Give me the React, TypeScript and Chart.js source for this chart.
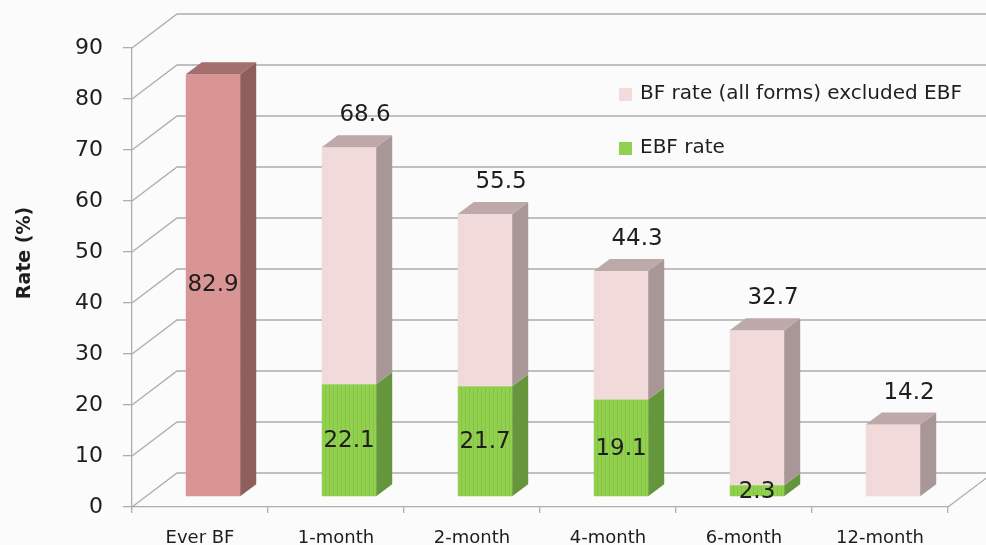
import { useEffect, useRef } from "react";
import { Chart, registerables } from "chart.js";

Chart.register(...registerables);

// ---- data ----
const categories = ["Ever BF", "1-month", "2-month", "4-month", "6-month", "12-month"];
const totalRate = [82.9, 68.6, 55.5, 44.3, 32.7, 14.2];
const ebfRate = [0, 22.1, 21.7, 19.1, 2.3, 0];
const seriesNames = ["BF rate (all forms) excluded EBF", "EBF rate"];
const yMin = 0;
const yMax = 90;
const yStep = 10;
const everIndex = 0; // the "Ever BF" bar, drawn solid with its label inside

// breastfeeding other than exclusive = total minus the exclusive part
const bfOtherRate = totalRate.map((t, i) => Math.round((t - ebfRate[i]) * 10) / 10);

// ---- styling ----
const FONT = "DejaVu Sans";
const GRID = "#adadad";
const TEXT = "#1e1e1e";
const BG = "#fbfbfb";

// offset of the bars' front plane from the axis plane
const PLANE_DX = 13;
const PLANE_DY = -10;
// depth of each bar
const DEPTH_DX = 16;
const DEPTH_DY = -12;
// depth of the floor / back wall
const WALL_DX = 45;
const WALL_DY = -34;

const COLORS = {
  ever: { front: "#d99594", side: "#8e5e5d", top: "#a36f6e" },
  other: { front: "#f2dcdb", side: "#a99797", top: "#bda9a9" },
  ebf: { front: "#92d050", side: "#66963b", top: "#7db644" },
};

function makePattern(base: string, mark: string, kind: "stripe" | "dot") {
  const c = document.createElement("canvas");
  c.width = 4;
  c.height = 4;
  const g = c.getContext("2d")!;
  g.fillStyle = base;
  g.fillRect(0, 0, 4, 4);
  g.fillStyle = mark;
  if (kind === "stripe") {
    g.fillRect(0, 0, 1, 4);
  } else {
    g.fillRect(0, 0, 1, 1);
    g.fillRect(2, 2, 1, 1);
  }
  return g.createPattern(c, "repeat")!;
}

function poly(ctx: CanvasRenderingContext2D, pts: number[][], fill: string) {
  ctx.beginPath();
  ctx.moveTo(pts[0][0], pts[0][1]);
  for (let i = 1; i < pts.length; i++) ctx.lineTo(pts[i][0], pts[i][1]);
  ctx.closePath();
  ctx.fillStyle = fill;
  ctx.fill();
}

const threeDPlugin = {
  id: "threeD",
  beforeDraw(chart: any) {
    const { ctx, width, height } = chart;
    ctx.save();
    ctx.fillStyle = BG;
    ctx.fillRect(0, 0, width, height);
    ctx.restore();
  },
  beforeDatasetsDraw(chart: any) {
    const { ctx, chartArea, scales, width } = chart;
    const y = scales.y;
    ctx.save();
    ctx.strokeStyle = GRID;
    ctx.lineWidth = 1.3;
    // wall grid: diagonal on the left wall, then across the back wall
    for (let v = yMin; v <= yMax; v += yStep) {
      const p = y.getPixelForValue(v);
      ctx.beginPath();
      ctx.moveTo(chartArea.left, p);
      ctx.lineTo(chartArea.left + WALL_DX, p + WALL_DY);
      ctx.lineTo(width + 20, p + WALL_DY);
      ctx.stroke();
    }
    // right edge of the floor
    ctx.beginPath();
    ctx.moveTo(chartArea.right, chartArea.bottom);
    ctx.lineTo(chartArea.right + WALL_DX, chartArea.bottom + WALL_DY);
    ctx.stroke();
    ctx.restore();

    // bars are drawn on a plane set back into the floor
    ctx.save();
    ctx.translate(PLANE_DX, PLANE_DY);
  },
  afterDatasetsDraw(chart: any) {
    const { ctx } = chart;
    const metaEbf = chart.getDatasetMeta(0);
    const metaOther = chart.getDatasetMeta(1);
    categories.forEach((_, i) => {
      const segs = [
        { el: metaEbf.data[i], col: COLORS.ebf, isTop: false },
        { el: metaOther.data[i], col: i === everIndex ? COLORS.ever : COLORS.other, isTop: true },
      ];
      segs.forEach(({ el, col, isTop }) => {
        if (!el) return;
        const top = Math.min(el.y, el.base);
        const bottom = Math.max(el.y, el.base);
        if (bottom - top < 0.5) return;
        const left = el.x - el.width / 2;
        const right = el.x + el.width / 2;
        poly(
          ctx,
          [
            [right, top],
            [right + DEPTH_DX, top + DEPTH_DY],
            [right + DEPTH_DX, bottom + DEPTH_DY],
            [right, bottom],
          ],
          col.side
        );
        if (isTop) {
          poly(
            ctx,
            [
              [left, top],
              [left + DEPTH_DX, top + DEPTH_DY],
              [right + DEPTH_DX, top + DEPTH_DY],
              [right, top],
            ],
            col.top
          );
        }
      });
    });
    ctx.restore();
  },
  afterDraw(chart: any) {
    const { ctx } = chart;
    const metaEbf = chart.getDatasetMeta(0);
    const metaOther = chart.getDatasetMeta(1);
    ctx.save();
    ctx.fillStyle = TEXT;
    ctx.textAlign = "center";
    ctx.textBaseline = "middle";
    ctx.font = `23px "${FONT}"`;
    categories.forEach((_, i) => {
      const o = metaOther.data[i];
      if (i === everIndex) {
        ctx.fillText(
          totalRate[i].toFixed(1),
          o.x + PLANE_DX,
          (o.y + o.base) / 2 + PLANE_DY
        );
      } else {
        ctx.fillText(totalRate[i].toFixed(1), o.x + PLANE_DX + DEPTH_DX, o.y + PLANE_DY - 32);
      }
      if (ebfRate[i] > 0) {
        const e = metaEbf.data[i];
        ctx.fillText(ebfRate[i].toFixed(1), e.x + PLANE_DX, (e.y + e.base) / 2 + PLANE_DY + 1);
      }
    });

    // legend
    ctx.textAlign = "left";
    ctx.font = `20px "${FONT}"`;
    const legend = [
      { name: seriesNames[0], color: COLORS.other.front, y: 94 },
      { name: seriesNames[1], color: COLORS.ebf.front, y: 148 },
    ];
    legend.forEach((l) => {
      ctx.fillStyle = l.color;
      ctx.fillRect(619, l.y - 6, 13, 13);
      ctx.fillStyle = TEXT;
      ctx.fillText(l.name, 640, l.y);
    });

    // y-axis title
    ctx.save();
    ctx.translate(25, 253);
    ctx.rotate(-Math.PI / 2);
    ctx.textAlign = "center";
    ctx.font = `bold 19px "${FONT}"`;
    ctx.fillStyle = TEXT;
    ctx.fillText("Rate (%)", 0, 0);
    ctx.restore();
    ctx.restore();
  },
};

export default function App() {
  const ref = useRef<HTMLCanvasElement>(null);

  useEffect(() => {
    if (!ref.current) return;
    const greenFill = makePattern(COLORS.ebf.front, "#86c446", "stripe");
    const pinkFill = makePattern(COLORS.other.front, "#ecd3d2", "dot");

    const chart = new Chart(ref.current, {
      type: "bar",
      data: {
        labels: categories,
        datasets: [
          {
            label: seriesNames[1],
            data: ebfRate,
            backgroundColor: greenFill,
            barPercentage: 0.4,
            categoryPercentage: 1,
            clip: false,
          } as any,
          {
            label: seriesNames[0],
            data: bfOtherRate,
            backgroundColor: categories.map((_, i) => (i === everIndex ? COLORS.ever.front : pinkFill)),
            barPercentage: 0.4,
            categoryPercentage: 1,
            clip: false,
          } as any,
        ],
      },
      options: {
        responsive: false,
        animation: false,
        devicePixelRatio: 1,
        layout: { padding: { left: 0, top: 48, right: 38, bottom: 0 } },
        plugins: {
          legend: { display: false },
          tooltip: { enabled: false },
        },
        scales: {
          x: {
            stacked: true,
            offset: true,
            grid: {
              display: true,
              drawOnChartArea: false,
              drawTicks: true,
              tickLength: 6,
              color: GRID,
              lineWidth: 1.3,
              offset: true,
            },
            border: { display: true, color: GRID, width: 1.3 },
            ticks: {
              font: { family: FONT, size: 18 },
              color: TEXT,
              padding: 15,
              maxRotation: 0,
              autoSkip: false,
            },
            afterFit: (s: any) => {
              s.height = 38;
            },
          },
          y: {
            stacked: true,
            min: yMin,
            max: yMax,
            ticks: {
              stepSize: yStep,
              font: { family: FONT, size: 22 },
              color: TEXT,
              padding: 20,
            },
            grid: {
              display: true,
              drawOnChartArea: false,
              drawTicks: true,
              tickLength: 9,
              color: GRID,
              lineWidth: 1.3,
            },
            border: { display: true, color: GRID, width: 1.3 },
            afterFit: (s: any) => {
              s.width = 132;
            },
          },
        },
      } as any,
      plugins: [threeDPlugin],
    });
    return () => chart.destroy();
  }, []);

  return (
    <div style={{ position: "fixed", left: 0, top: 0, width: 986, height: 545 }}>
      <canvas ref={ref} width={986} height={545} style={{ display: "block" }} />
    </div>
  );
}
